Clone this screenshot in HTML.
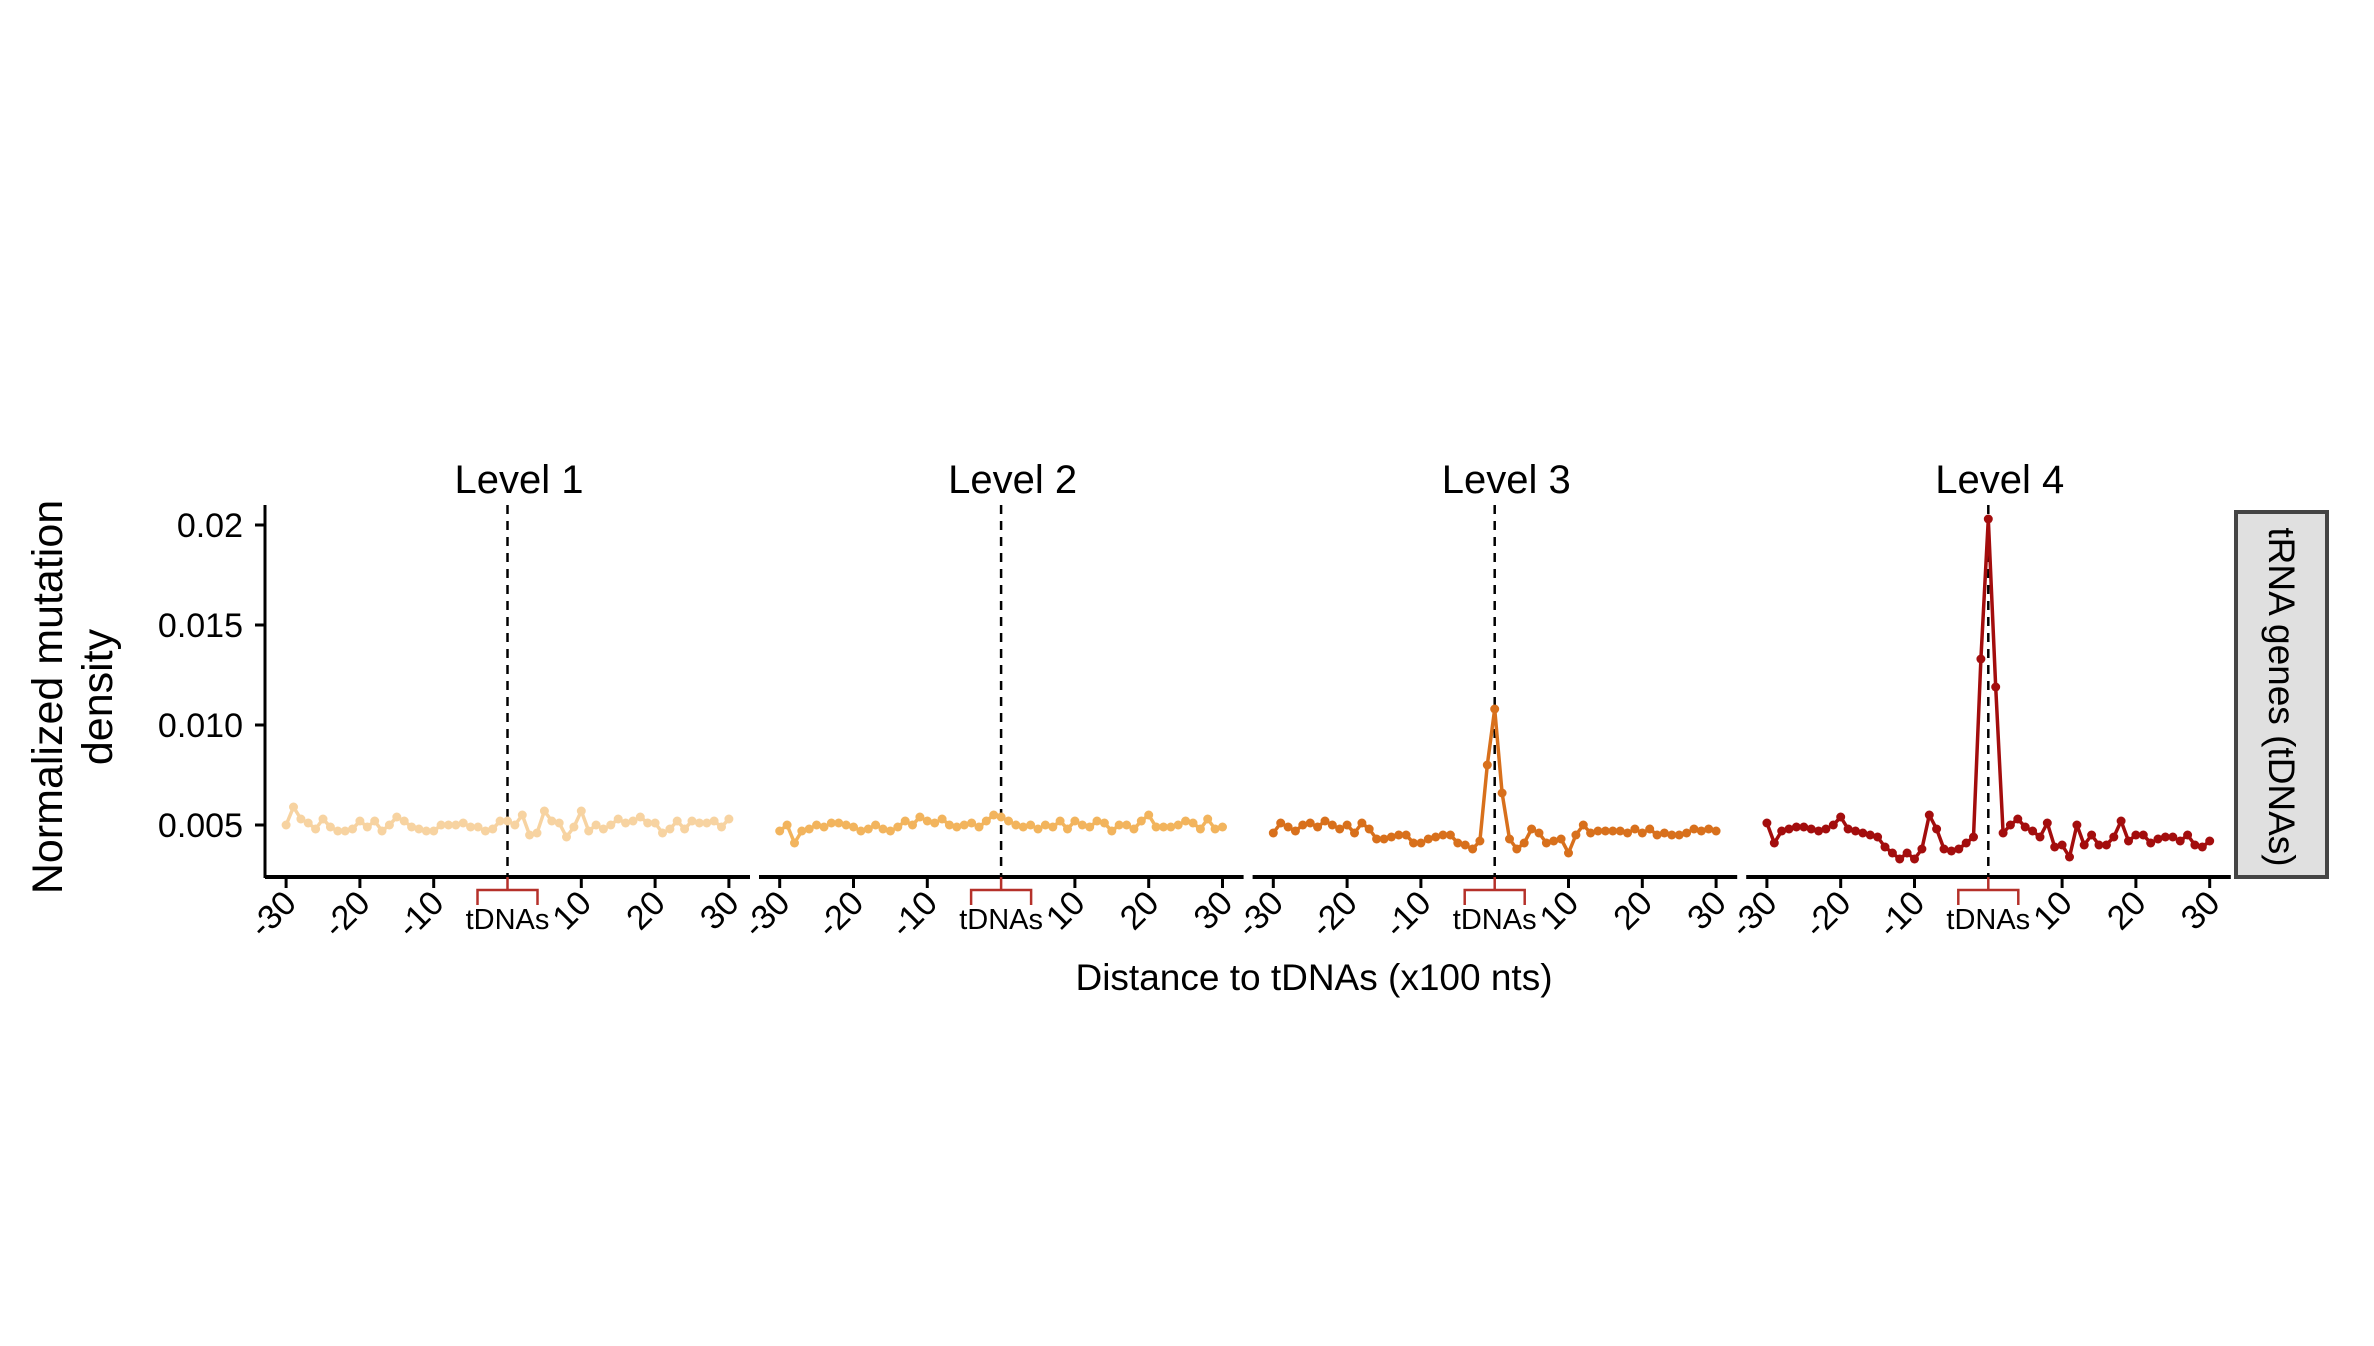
<!DOCTYPE html>
<html><head><meta charset="utf-8"><style>
html,body{margin:0;padding:0;background:#fff;}
svg{display:block;font-family:"Liberation Sans",Arial,sans-serif;}
</style></head><body>
<svg id="s" width="2374" height="1346" viewBox="0 0 2374 1346" xmlns="http://www.w3.org/2000/svg">
<rect width="2374" height="1346" fill="#fff"/>
<line x1="265" y1="505" x2="265" y2="878" stroke="#000" stroke-width="3"/>
<g stroke="#000" stroke-width="3">
<line x1="255" y1="525" x2="265" y2="525"/><line x1="255" y1="625" x2="265" y2="625"/>
<line x1="255" y1="725" x2="265" y2="725"/><line x1="255" y1="825" x2="265" y2="825"/>
</g>
<g font-size="34" text-anchor="end" fill="#000">
<text x="243" y="537">0.02</text><text x="243" y="637">0.015</text>
<text x="243" y="737">0.010</text><text x="243" y="837">0.005</text>
</g>
<text transform="translate(62,697) rotate(-90)" font-size="43" text-anchor="middle">Normalized mutation</text>
<text transform="translate(112,697) rotate(-90)" font-size="43" text-anchor="middle">density</text>
<text x="1314" y="990" font-size="37" text-anchor="middle">Distance to tDNAs (x100 nts)</text>
<rect x="2236" y="512" width="91" height="365" fill="#e0e0e0" stroke="#444" stroke-width="4"/>
<text transform="translate(2269,697) rotate(90)" font-size="37" text-anchor="middle">tRNA genes  (tDNAs)</text>
<g id="panels"></g>
</svg>
<script>
var L1=[50,59,53,51,48,53,49,47,47,48,52,49,52,47,50,54,52,49,48,47,47,50,50,50,51,49,49,47,48,52,52,50,55,45,46,57,52,51,44,49,57,47,50,48,50,53,51,52,54,51,51,46,48,52,48,52,51,51,52,49,53];
var L2=[47,50,41,47,48,50,49,51,51,50,49,47,48,50,48,47,49,52,50,54,52,51,53,50,49,50,51,49,52,55,54,52,50,49,50,48,50,49,52,48,52,50,49,52,51,47,50,50,48,52,55,49,49,49,50,52,51,48,53,48,49];
var L3=[46,51,49,47,50,51,49,52,50,48,50,46,51,48,43,43,44,45,45,41,41,43,44,45,45,41,40,38,42,80,108,66,43,38,41,48,46,41,42,43,36,45,50,46,47,47,47,47,46,48,46,48,45,46,45,45,46,48,47,48,47];
var L4=[51,41,47,48,49,49,48,47,48,50,54,48,47,46,45,44,39,36,33,36,33,38,55,48,38,37,38,41,44,133,203,119,46,50,53,49,47,44,51,39,40,34,50,40,45,40,40,44,52,42,45,45,41,43,44,44,42,45,40,39,42];
var cols=["#f7d3a1","#f2b45d","#d8701c","#a30d0d"];
var data=[L1,L2,L3,L4],titles=["Level 1","Level 2","Level 3","Level 4"];
var h="",off=493.6;
for(var p=0;p<4;p++){
 var o=p*off, cx=507.5+o;
 var xa=p==0?265:757+(p-1)*off+2;
 h+='<line x1="'+xa+'" y1="877" x2="'+(750+o)+'" y2="877" stroke="#000" stroke-width="4"/>';
 h+='<text x="'+(519+o)+'" y="493" font-size="40" text-anchor="middle">'+titles[p]+'</text>';
 h+='<line x1="'+cx+'" y1="505" x2="'+cx+'" y2="877" stroke="#000" stroke-width="2.5" stroke-dasharray="9,7"/>';
 [-30,-20,-10,10,20,30].forEach(function(t){
  var x=cx+t*7.38;
  h+='<line x1="'+x+'" y1="877" x2="'+x+'" y2="888" stroke="#000" stroke-width="3"/>';
  h+='<text transform="translate('+(x+12)+',905) rotate(-45)" font-size="34" text-anchor="end">'+t+'</text>';
 });
 h+='<path d="M'+(cx-30)+' 905 V890 H'+(cx+30)+' V905 M'+cx+' 877 V890" fill="none" stroke="#b5312a" stroke-width="2.5"/>';
 h+='<text x="'+cx+'" y="929" font-size="29" text-anchor="middle">tDNAs</text>';
 var pts=[],d=data[p];
 for(var i=0;i<61;i++){pts.push([cx+(i-30)*7.38, 825-(d[i]/10000-0.005)*20000]);}
 h+='<polyline points="'+pts.map(function(q){return q[0].toFixed(1)+','+q[1].toFixed(1)}).join(' ')+'" fill="none" stroke="'+cols[p]+'" stroke-width="3.5" stroke-linejoin="round"/>';
 pts.forEach(function(q){h+='<circle cx="'+q[0].toFixed(1)+'" cy="'+q[1].toFixed(1)+'" r="4.5" fill="'+cols[p]+'"/>';});
}
document.getElementById("panels").innerHTML=h;
</script>
</body></html>
